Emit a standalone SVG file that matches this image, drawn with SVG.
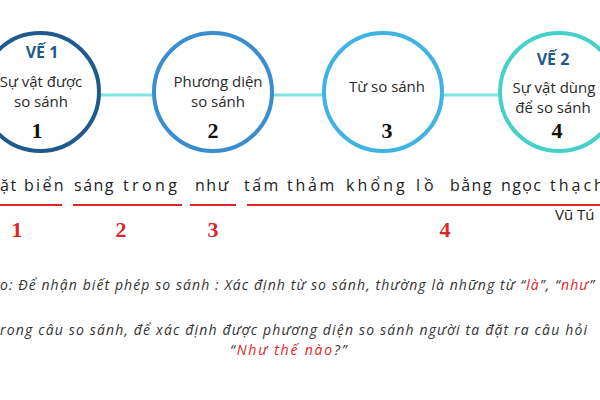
<svg xmlns="http://www.w3.org/2000/svg" width="600" height="400" viewBox="0 0 600 400">
<style>
.c{fill:#fff;stroke-width:4}
.t{font-family:"Open Sans","Noto Sans","DejaVu Sans",sans-serif;font-size:15px;fill:#2a2a2a;text-anchor:middle}
.ve{font-family:"Open Sans","Noto Sans","DejaVu Sans",sans-serif;font-size:16px;font-weight:bold;fill:#1f5a8a;text-anchor:middle}
.num{font-family:"Liberation Serif","Times New Roman",serif;font-size:22px;font-weight:bold;fill:#111;text-anchor:middle}
.rn{font-family:"Liberation Serif","Times New Roman",serif;font-size:22px;font-weight:bold;fill:#e0242a;text-anchor:middle}
.s{font-family:"Open Sans","Noto Sans","DejaVu Sans",sans-serif;font-size:16px;fill:#222}
.it{font-family:"Open Sans","Noto Sans","DejaVu Sans",sans-serif;font-size:14px;font-style:italic;fill:#333}
.red{fill:#e0242a}
.ul{stroke:#e0242a;stroke-width:2}
</style>
<rect width="600" height="400" fill="#fff"/>
<g id="connectors" stroke="#7fe3e0" stroke-width="3">
<line x1="99" y1="95" x2="154" y2="95"/>
<line x1="272" y1="95" x2="324" y2="95"/>
<line x1="442" y1="95" x2="500" y2="95"/>
</g>
<g id="node1">
<circle class="c" cx="40" cy="92" r="59" stroke="#1e5a8c"/>
<text class="ve" x="42" y="58">VẾ 1</text>
<text class="t" x="41" y="87">Sự vật được</text>
<text class="t" x="41" y="107">so sánh</text>
<text class="num" x="37" y="138">1</text>
</g>
<g id="node2">
<circle class="c" cx="213" cy="92" r="59" stroke="#3a8dcf"/>
<text class="t" x="218" y="87">Phương diện</text>
<text class="t" x="218" y="107">so sánh</text>
<text class="num" x="213" y="138">2</text>
</g>
<g id="node3">
<circle class="c" cx="383" cy="92" r="59" stroke="#3fb4e2"/>
<text class="t" x="387" y="92">Từ so sánh</text>
<text class="num" x="387" y="138">3</text>
</g>
<g id="node4">
<circle class="c" cx="559" cy="92" r="59" stroke="#45d0c8"/>
<text class="ve" x="553" y="65">VẾ 2</text>
<text class="t" x="554" y="93">Sự vật dùng</text>
<text class="t" x="553" y="113">để so sánh</text>
<text class="num" x="557" y="138">4</text>
</g>
<g id="sentence">
<text class="s" x="0" y="191" style="letter-spacing:1.5px">ặt</text>
<text class="s" x="24" y="191" style="letter-spacing:2.3px">biển</text>
<text class="s" x="74" y="191" style="letter-spacing:1.5px">sáng</text>
<text class="s" x="123" y="191" style="letter-spacing:3.4px">trong</text>
<text class="s" x="195" y="191" style="letter-spacing:1.5px">như</text>
<text class="s" x="244" y="191" style="letter-spacing:2.5px">tấm</text>
<text class="s" x="287" y="191" style="letter-spacing:2.7px">thảm</text>
<text class="s" x="346" y="191" style="letter-spacing:3.1px">khổng</text>
<text class="s" x="416" y="191" style="letter-spacing:4px">lồ</text>
<text class="s" x="450" y="191" style="letter-spacing:1.4px">bằng</text>
<text class="s" x="501" y="191" style="letter-spacing:1.4px">ngọc</text>
<text class="s" x="550" y="191" style="letter-spacing:3px">thạch</text>
<line class="ul" x1="0" y1="205" x2="62" y2="205"/>
<line class="ul" x1="73" y1="205" x2="182" y2="205"/>
<line class="ul" x1="190" y1="205" x2="236" y2="205" stroke-width="1.5"/>
<line class="ul" x1="247" y1="205" x2="600" y2="205"/>
<text class="rn" x="17" y="237">1</text>
<text class="rn" x="121" y="237">2</text>
<text class="rn" x="213" y="237">3</text>
<text class="rn" x="445" y="237">4</text>
<text class="s" x="555" y="220" style="font-size:15px">Vũ Tú</text>
</g>
<g id="notes">
<text class="it" x="0" y="290" textLength="594" lengthAdjust="spacing">o: Để nhận biết phép so sánh : Xác định từ so sánh, thường là những từ “<tspan class="red">là</tspan>”, “<tspan class="red">như</tspan>”</text>
<text class="it" x="0" y="335" textLength="587" lengthAdjust="spacing">rong câu so sánh,  để xác định được phương diện so sánh người ta đặt ra câu hỏi</text>
<text class="it" x="230" y="355" style="letter-spacing:1.8px">“<tspan class="red">Như thế nào</tspan>?”</text>
</g>
</svg>
